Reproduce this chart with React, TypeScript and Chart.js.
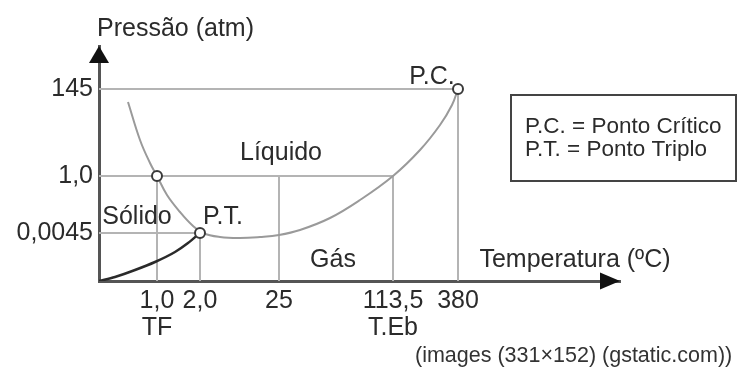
import { useEffect, useRef } from 'react';
import { Chart, registerables } from 'chart.js';

Chart.register(...registerables);

const FONT = '"Liberation Sans", Arial, Helvetica, sans-serif';

// Schematic (non-linear) axes: position of each labelled value along its axis
const tempTickLabels: (string | string[])[] = [['1,0', 'TF'], '2,0', '25', ['113,5', 'T.Eb'], '380'];
const tempTickPos = [58, 101, 180, 294, 359];
const pressTickLabels = ['145', '1,0', '0,0045'];
const pressTickPos = [192, 105, 48];

// Fusion + vaporization curve (grey) and sublimation curve (black)
const meltBoilCurveX = [29, 41, 51, 58, 68, 81, 93, 104, 121, 141, 161, 180, 201, 231, 261, 294, 321, 341, 353, 359];
const meltBoilCurveY = [179, 141, 118, 105, 86, 69, 56, 48, 44, 43, 44, 46, 51, 63, 81, 105, 131, 156, 176, 192];
const sublimCurveX = [0, 16, 36, 56, 76, 89, 101];
const sublimCurveY = [0, 4, 11, 19, 29, 38, 48];

// Marked points: fusion (1,0 ; 1,0), triple point (2,0 ; 0,0045), critical point (380 ; 145)
const markTempIdx = [0, 1, 4];
const markPressIdx = [1, 2, 0];

// Guide lines: horizontal (pressure idx -> up to temp idx), vertical (temp idx -> up to pressure idx)
const hGuidePressIdx = [0, 1, 2];
const hGuideTempIdx = [4, 3, 1];
const vGuideTempIdx = [0, 1, 2, 3, 4];
const vGuidePressIdx = [1, 2, 1, 1, 0];

// Text labels
const regionLabels = ['Líquido', 'Sólido', 'Gás', 'P.T.', 'P.C.'];
const regionLabelX = [182, 38, 234, 124, 333];
const regionLabelY = [121, 57, 14, 57, 197];
const yAxisTitle = 'Pressão (atm)';
const xAxisTitle = 'Temperatura (ºC)';
const legendLines = ['P.C. = Ponto Crítico', 'P.T. = Ponto Triplo'];
const caption = '(images (331×152) (gstatic.com))';

export default function App() {
  const ref = useRef<HTMLCanvasElement>(null);

  useEffect(() => {
    const canvas = ref.current!;
    const pts = (xs: number[], ys: number[]) => xs.map((x, i) => ({ x, y: ys[i] }));

    const guideStyle = {
      borderColor: '#b4b4b4',
      borderWidth: 2,
      pointRadius: 0,
      showLine: true,
      tension: 0,
      order: 3,
    };

    const datasets: any[] = [];
    datasets.push({
      data: pts(markTempIdx.map((i) => tempTickPos[i]), markPressIdx.map((i) => pressTickPos[i])),
      pointRadius: 5,
      pointBorderWidth: 2,
      pointBackgroundColor: '#ffffff',
      pointBorderColor: '#3a3a3a',
      showLine: false,
      order: 0,
    });
    datasets.push({
      data: pts(meltBoilCurveX, meltBoilCurveY),
      borderColor: '#9a9a9a',
      borderWidth: 2,
      pointRadius: 0,
      showLine: true,
      tension: 0.4,
      order: 2,
    });
    datasets.push({
      data: pts(sublimCurveX, sublimCurveY),
      borderColor: '#2a2a2a',
      borderWidth: 2.5,
      pointRadius: 0,
      showLine: true,
      cubicInterpolationMode: 'monotone',
      order: 1,
    });
    hGuidePressIdx.forEach((pi, k) => {
      datasets.push({
        ...guideStyle,
        data: [
          { x: 0, y: pressTickPos[pi] },
          { x: tempTickPos[hGuideTempIdx[k]], y: pressTickPos[pi] },
        ],
      });
    });
    vGuideTempIdx.forEach((ti, k) => {
      datasets.push({
        ...guideStyle,
        data: [
          { x: tempTickPos[ti], y: 0 },
          { x: tempTickPos[ti], y: pressTickPos[vGuidePressIdx[k]] },
        ],
      });
    });

    const overlay = {
      id: 'overlay',
      afterDraw(chart: any) {
        const ctx = chart.ctx as CanvasRenderingContext2D;
        const xs = chart.scales.x;
        const ys = chart.scales.y;
        const { left, right, top, bottom } = chart.chartArea;
        ctx.save();
        // axis arrows
        ctx.fillStyle = '#111';
        ctx.beginPath();
        ctx.moveTo(left, top);
        ctx.lineTo(left - 10, top + 17);
        ctx.lineTo(left + 10, top + 17);
        ctx.closePath();
        ctx.fill();
        ctx.beginPath();
        ctx.moveTo(right, bottom);
        ctx.lineTo(right - 20, bottom - 8.5);
        ctx.lineTo(right - 20, bottom + 8.5);
        ctx.closePath();
        ctx.fill();

        // labels
        ctx.fillStyle = '#2b2b2b';
        ctx.font = `25px ${FONT}`;
        ctx.textBaseline = 'alphabetic';
        ctx.textAlign = 'center';
        regionLabels.forEach((t, i) => {
          ctx.fillText(t, xs.getPixelForValue(regionLabelX[i]), ys.getPixelForValue(regionLabelY[i]));
        });
        ctx.fillText(xAxisTitle, xs.getPixelForValue(476), ys.getPixelForValue(14));
        ctx.textAlign = 'left';
        ctx.fillText(yAxisTitle, left - 2, top - 10);

        // legend box
        ctx.strokeStyle = '#444';
        ctx.lineWidth = 2;
        ctx.strokeRect(511, 95, 225, 86);
        ctx.font = `22.5px ${FONT}`;
        ctx.fillText(legendLines[0], 525, 133);
        ctx.fillText(legendLines[1], 525, 156);

        // caption
        ctx.font = `21.5px ${FONT}`;
        ctx.fillStyle = '#333';
        ctx.fillText(caption, 415, 362);
        ctx.restore();
      },
    };

    const chart = new Chart(canvas, {
      type: 'scatter',
      data: { datasets },
      options: {
        animation: false,
        responsive: false,
        devicePixelRatio: 1,
        events: [],
        layout: { padding: { top: 46, right: 120, left: 0, bottom: 0 } },
        plugins: { legend: { display: false }, tooltip: { enabled: false } },
        scales: {
          x: {
            type: 'linear',
            min: 0,
            max: 521,
            grid: { display: false, drawTicks: false },
            border: { display: true, color: '#555', width: 3 },
            afterBuildTicks: (s: any) => {
              s.ticks = tempTickPos.map((v) => ({ value: v }));
            },
            afterFit: (s: any) => {
              s.height = 102;
            },
            ticks: {
              autoSkip: false,
              maxRotation: 0,
              padding: 6,
              color: '#2b2b2b',
              font: { family: FONT, size: 25, lineHeight: 1.1 },
              callback: (_v: any, i: number) => tempTickLabels[i],
            },
          },
          y: {
            type: 'linear',
            min: 0,
            max: 235,
            grid: { display: false, drawTicks: false },
            border: { display: true, color: '#555', width: 3 },
            afterBuildTicks: (s: any) => {
              s.ticks = pressTickPos.map((v) => ({ value: v }));
            },
            afterFit: (s: any) => {
              s.width = 99;
            },
            ticks: {
              autoSkip: false,
              padding: 6,
              color: '#2b2b2b',
              font: { family: FONT, size: 25 },
              callback: (_v: any, i: number) => pressTickLabels[i],
            },
          },
        },
      },
      plugins: [overlay],
    } as any);

    return () => chart.destroy();
  }, []);

  return (
    <div style={{ position: 'fixed', left: 0, top: 0, width: 740, height: 383, background: '#fff' }}>
      <canvas ref={ref} width={740} height={383} style={{ display: 'block', width: 740, height: 383 }} />
    </div>
  );
}
